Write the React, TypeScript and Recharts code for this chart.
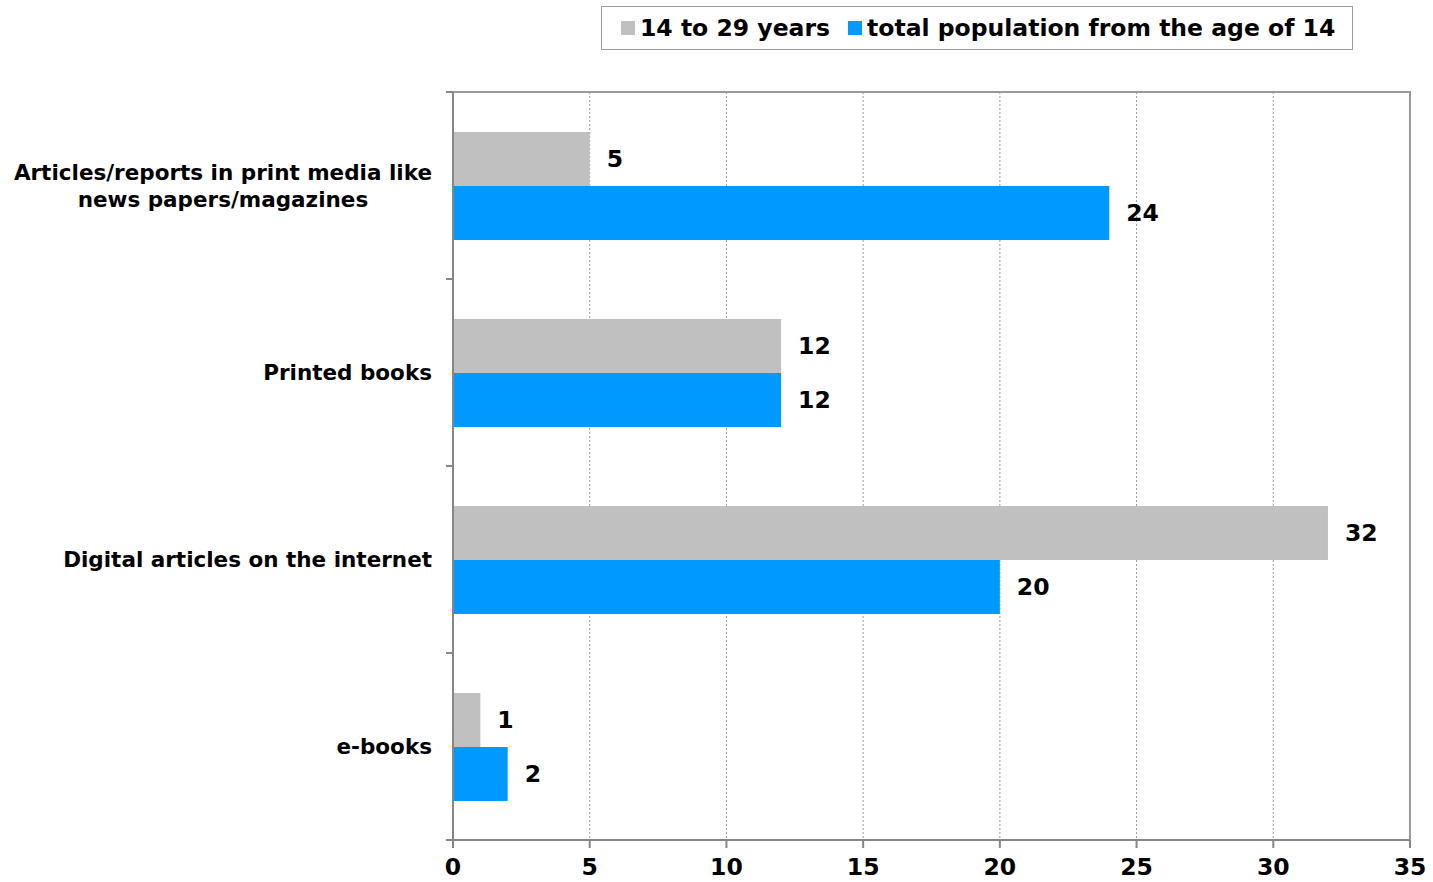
import { BarChart, Bar, XAxis, YAxis, CartesianGrid, LabelList, ReferenceArea } from 'recharts';

const categories = ['Articles/reports in print media like\nnews papers/magazines', 'Printed books', 'Digital articles on the internet', 'e-books'];
const young = [5, 12, 32, 1];
const total = [24, 12, 20, 2];
const xTicks = [0, 5, 10, 15, 20, 25, 30, 35];

const seriesNames = ['14 to 29 years', 'total population from the age of 14'];
const colors = ['#C0C0C0', '#0099FF'];

const FONT = 'Verdana, "DejaVu Sans", sans-serif';
const AXIS = '#868686';
const CAT_SIZE = 21.5;
const NUM_SIZE = 23.5;

const data = categories.map((name, i) => ({ name, young: young[i], total: total[i] }));

function measure(text: string) {
  const c = document.createElement('canvas').getContext('2d');
  if (!c) return text.length * 13;
  c.font = `bold ${CAT_SIZE}px ${FONT}`;
  return c.measureText(text).width;
}

function CategoryTick(props: any) {
  const { x, y, payload } = props;
  const half = payload.offset || 93.5;
  const lines = String(payload.value).split('\n');
  const right = x - 21;
  const maxW = Math.max(...lines.map(measure));
  const lh = 27;
  const y0 = y - ((lines.length - 1) * lh) / 2;
  return (
    <g>
      <line x1={x - 7} x2={x} y1={y - half} y2={y - half} stroke={AXIS} strokeWidth={2} />
      <line x1={x - 7} x2={x} y1={y + half} y2={y + half} stroke={AXIS} strokeWidth={2} />
      {lines.map((l, i) => (
        <text
          key={i}
          x={lines.length > 1 ? right - maxW / 2 : right}
          y={y0 + i * lh}
          dy="0.35em"
          textAnchor={lines.length > 1 ? 'middle' : 'end'}
          fontFamily={FONT}
          fontWeight="bold"
          fontSize={CAT_SIZE}
          fill="#000"
        >
          {l}
        </text>
      ))}
    </g>
  );
}

export default function App() {
  return (
    <div style={{ position: 'absolute', left: 0, top: 0, width: 1433, height: 882, background: '#fff' }}>
      <div
        style={{
          position: 'absolute',
          left: 601,
          top: 6,
          width: 750,
          height: 42,
          border: '1.5px solid #9a9a9a',
          display: 'flex',
          alignItems: 'center',
          fontFamily: FONT,
          fontWeight: 'bold',
          fontSize: NUM_SIZE,
          color: '#000',
          whiteSpace: 'nowrap',
        }}
      >
        {seriesNames.map((n, i) => (
          <div key={n} style={{ display: 'flex', alignItems: 'center', marginLeft: i === 0 ? 19 : 18 }}>
            <span style={{ display: 'inline-block', width: 14, height: 14, background: colors[i], marginRight: 5 }} />
            <span>{n}</span>
          </div>
        ))}
      </div>
      <BarChart
        width={1433}
        height={882}
        data={data}
        layout="vertical"
        margin={{ top: 92, right: 23, bottom: 0, left: 0 }}
        barCategoryGap={40}
        barGap={0}
      >
        <CartesianGrid horizontal={false} vertical stroke="#9a9a9a" strokeDasharray="2 2" />
        <XAxis
          type="number"
          domain={[0, 35]}
          ticks={xTicks}
          interval={0}
          height={42}
          axisLine={{ stroke: AXIS, strokeWidth: 2 }}
          tickLine={{ stroke: AXIS, strokeWidth: 2 }}
          tickSize={8}
          tickMargin={10}
          tick={{ fontFamily: FONT, fontWeight: 'bold', fontSize: NUM_SIZE, fill: '#000' }}
        />
        <YAxis
          type="category"
          dataKey="name"
          width={453}
          axisLine={{ stroke: AXIS, strokeWidth: 2 }}
          tickLine={false}
          tickSize={0}
          tickMargin={0}
          tick={<CategoryTick />}
          interval={0}
        />
        <ReferenceArea x1={0} x2={35} fill="none" stroke="#999" strokeWidth={2} ifOverflow="visible" />
        <Bar dataKey="young" name={seriesNames[0]} fill={colors[0]} isAnimationActive={false}>
          <LabelList dataKey="young" position="right" offset={17} fill="#000" fontFamily={FONT} fontWeight="bold" fontSize={NUM_SIZE} />
        </Bar>
        <Bar dataKey="total" name={seriesNames[1]} fill={colors[1]} isAnimationActive={false}>
          <LabelList dataKey="total" position="right" offset={17} fill="#000" fontFamily={FONT} fontWeight="bold" fontSize={NUM_SIZE} />
        </Bar>
      </BarChart>
    </div>
  );
}
